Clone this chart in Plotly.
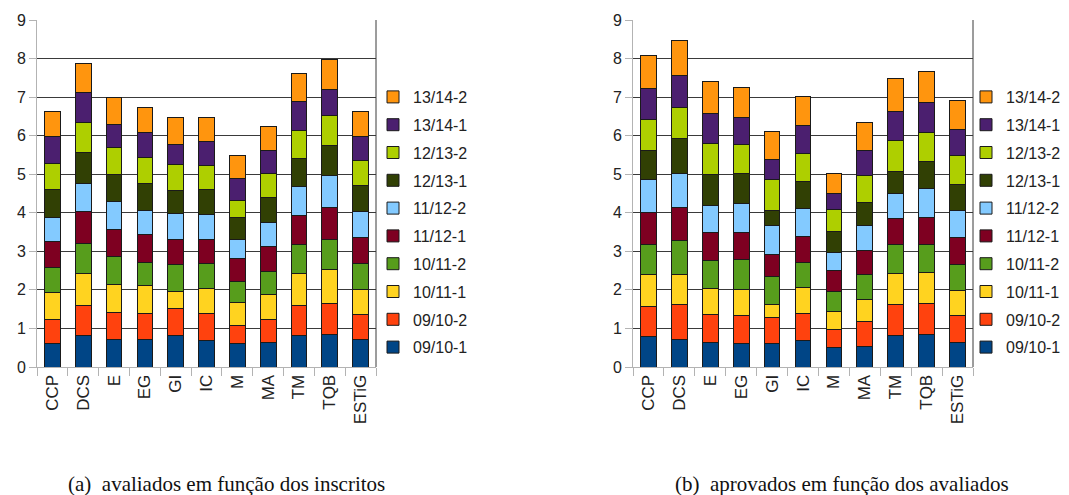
import plotly.graph_objects as go

categories = ["CCP", "DCS", "E", "EG", "GI", "IC", "M", "MA", "TM", "TQB", "ESTiG"]
series_names = ["09/10-1", "09/10-2", "10/11-1", "10/11-2", "11/12-1",
                "11/12-2", "12/13-1", "12/13-2", "13/14-1", "13/14-2"]
colors = ["#004586", "#ff420e", "#ffd320", "#579d1c", "#7e0021",
          "#83caff", "#314004", "#aecf00", "#4b1f6f", "#ff950e"]

# (a) avaliados em função dos inscritos — one list per series, values per category
a_0910_1 = [0.61, 0.81, 0.71, 0.71, 0.81, 0.69, 0.61, 0.64, 0.82, 0.85, 0.71]
a_0910_2 = [0.62, 0.78, 0.71, 0.68, 0.71, 0.69, 0.46, 0.59, 0.78, 0.80, 0.65]
a_1011_1 = [0.71, 0.83, 0.72, 0.72, 0.44, 0.66, 0.61, 0.65, 0.82, 0.88, 0.66]
a_1011_2 = [0.64, 0.78, 0.72, 0.61, 0.70, 0.64, 0.53, 0.59, 0.75, 0.79, 0.67]
a_1112_1 = [0.67, 0.83, 0.71, 0.71, 0.65, 0.64, 0.60, 0.66, 0.75, 0.81, 0.67]
a_1112_2 = [0.64, 0.73, 0.72, 0.64, 0.67, 0.63, 0.49, 0.62, 0.75, 0.84, 0.67]
a_1213_1 = [0.71, 0.81, 0.70, 0.69, 0.60, 0.65, 0.58, 0.64, 0.74, 0.77, 0.67]
a_1213_2 = [0.69, 0.76, 0.70, 0.67, 0.66, 0.62, 0.45, 0.62, 0.73, 0.78, 0.65]
a_1314_1 = [0.68, 0.80, 0.60, 0.64, 0.54, 0.62, 0.55, 0.61, 0.75, 0.68, 0.63]
a_1314_2 = [0.66, 0.75, 0.69, 0.67, 0.69, 0.63, 0.60, 0.62, 0.73, 0.78, 0.65]

# (b) aprovados em função dos avaliados
b_0910_1 = [0.80, 0.71, 0.64, 0.62, 0.61, 0.69, 0.50, 0.52, 0.81, 0.84, 0.63]
b_0910_2 = [0.77, 0.90, 0.72, 0.71, 0.67, 0.69, 0.47, 0.66, 0.82, 0.80, 0.70]
b_1011_1 = [0.83, 0.79, 0.67, 0.69, 0.34, 0.68, 0.47, 0.57, 0.79, 0.80, 0.65]
b_1011_2 = [0.79, 0.88, 0.72, 0.76, 0.73, 0.65, 0.51, 0.65, 0.75, 0.73, 0.69]
b_1112_1 = [0.82, 0.86, 0.74, 0.71, 0.57, 0.67, 0.55, 0.62, 0.68, 0.71, 0.68]
b_1112_2 = [0.85, 0.89, 0.69, 0.74, 0.74, 0.72, 0.48, 0.66, 0.64, 0.75, 0.70]
b_1213_1 = [0.75, 0.89, 0.80, 0.79, 0.40, 0.70, 0.53, 0.59, 0.59, 0.71, 0.68]
b_1213_2 = [0.81, 0.81, 0.81, 0.74, 0.81, 0.75, 0.57, 0.70, 0.80, 0.74, 0.75]
b_1314_1 = [0.80, 0.82, 0.79, 0.71, 0.50, 0.72, 0.43, 0.64, 0.75, 0.78, 0.69]
b_1314_2 = [0.86, 0.91, 0.82, 0.77, 0.75, 0.74, 0.50, 0.72, 0.84, 0.80, 0.75]

a_series = [a_0910_1, a_0910_2, a_1011_1, a_1011_2, a_1112_1,
            a_1112_2, a_1213_1, a_1213_2, a_1314_1, a_1314_2]
b_series = [b_0910_1, b_0910_2, b_1011_1, b_1011_2, b_1112_1,
            b_1112_2, b_1213_1, b_1213_2, b_1314_1, b_1314_2]

y_ticks = list(range(0, 10))
caption_a = "(a)\u00a0\u00a0avaliados em função dos inscritos"
caption_b = "(b)\u00a0\u00a0aprovados em função dos avaliados"

W, H = 1069, 495
fig = go.Figure()

n = len(series_names)
for i, name in enumerate(series_names):
    fig.add_trace(go.Bar(
        x=categories, y=a_series[i], name=name, xaxis="x", yaxis="y",
        marker=dict(color=colors[i], line=dict(color="#1a1a1a", width=1)),
        legend="legend", legendgroup="a%d" % i, legendrank=n - i,
        hoverinfo="y+name"))
for i, name in enumerate(series_names):
    fig.add_trace(go.Bar(
        x=categories, y=b_series[i], name=name, xaxis="x2", yaxis="y2",
        marker=dict(color=colors[i], line=dict(color="#1a1a1a", width=1)),
        legend="legend2", legendgroup="b%d" % i, legendrank=n - i,
        hoverinfo="y+name"))

tick_font = dict(family="Liberation Sans, Arial, sans-serif", size=16, color="#222222")
xcommon = dict(type="category", showgrid=False, showline=True, linecolor="#b3b3b3",
               linewidth=1, ticks="outside", tickson="boundaries", ticklen=8,
               tickcolor="#b3b3b3", tickangle=-90, automargin=False,
               tickfont=dict(family="Liberation Sans, Arial, sans-serif", size=17, color="#222222"))
ycommon = dict(range=[0, 9], tickvals=y_ticks, showgrid=True, gridcolor="#3a3a3a",
               gridwidth=1, showline=True, linecolor="#b3b3b3", linewidth=1,
               ticks="outside", ticklen=7, tickcolor="#b3b3b3", tickfont=tick_font,
               zeroline=False, fixedrange=True, automargin=False)

legend_font = dict(family="Liberation Sans, Arial, sans-serif", size=16, color="#222222")
ydom = [(H - 367) / H, (H - 20) / H]
fig.update_layout(
    width=W, height=H, barmode="stack", bargap=0.49,
    margin=dict(l=0, r=0, t=0, b=0, autoexpand=False),
    paper_bgcolor="white", plot_bgcolor="white",
    xaxis=dict(domain=[37 / W, 376 / W], anchor="y", **xcommon),
    yaxis=dict(domain=ydom, anchor="x", **ycommon),
    xaxis2=dict(domain=[633 / W, 973 / W], anchor="y2", **xcommon),
    yaxis2=dict(domain=ydom, anchor="x2", **ycommon),
    legend=dict(x=373 / W, y=(H - 80) / H, xanchor="left", yanchor="top",
                traceorder="grouped", tracegroupgap=4, font=legend_font,
                bgcolor="rgba(0,0,0,0)"),
    legend2=dict(x=966 / W, y=(H - 80) / H, xanchor="left", yanchor="top",
                 traceorder="grouped", tracegroupgap=4, font=legend_font,
                 bgcolor="rgba(0,0,0,0)"),
    shapes=[
        dict(type="line", xref="x domain", yref="y domain", x0=1, x1=1, y0=0, y1=1,
             line=dict(color="#3a3a3a", width=1)),
        dict(type="line", xref="x2 domain", yref="y2 domain", x0=1, x1=1, y0=0, y1=1,
             line=dict(color="#3a3a3a", width=1)),
    ],
    annotations=[
        dict(text=caption_a, xref="paper", yref="paper", x=226 / W, y=(H - 484) / H,
             xanchor="center", yanchor="middle", showarrow=False,
             font=dict(family="Liberation Serif, DejaVu Serif, serif", size=21, color="#111111")),
        dict(text=caption_b, xref="paper", yref="paper", x=842 / W, y=(H - 484) / H,
             xanchor="center", yanchor="middle", showarrow=False,
             font=dict(family="Liberation Serif, DejaVu Serif, serif", size=21, color="#111111")),
    ],
)

fig.write_html("out.html", config={"displayModeBar": False},
               post_script="document.body.style.margin='0';document.body.style.padding='0';document.body.style.overflow='hidden';")
